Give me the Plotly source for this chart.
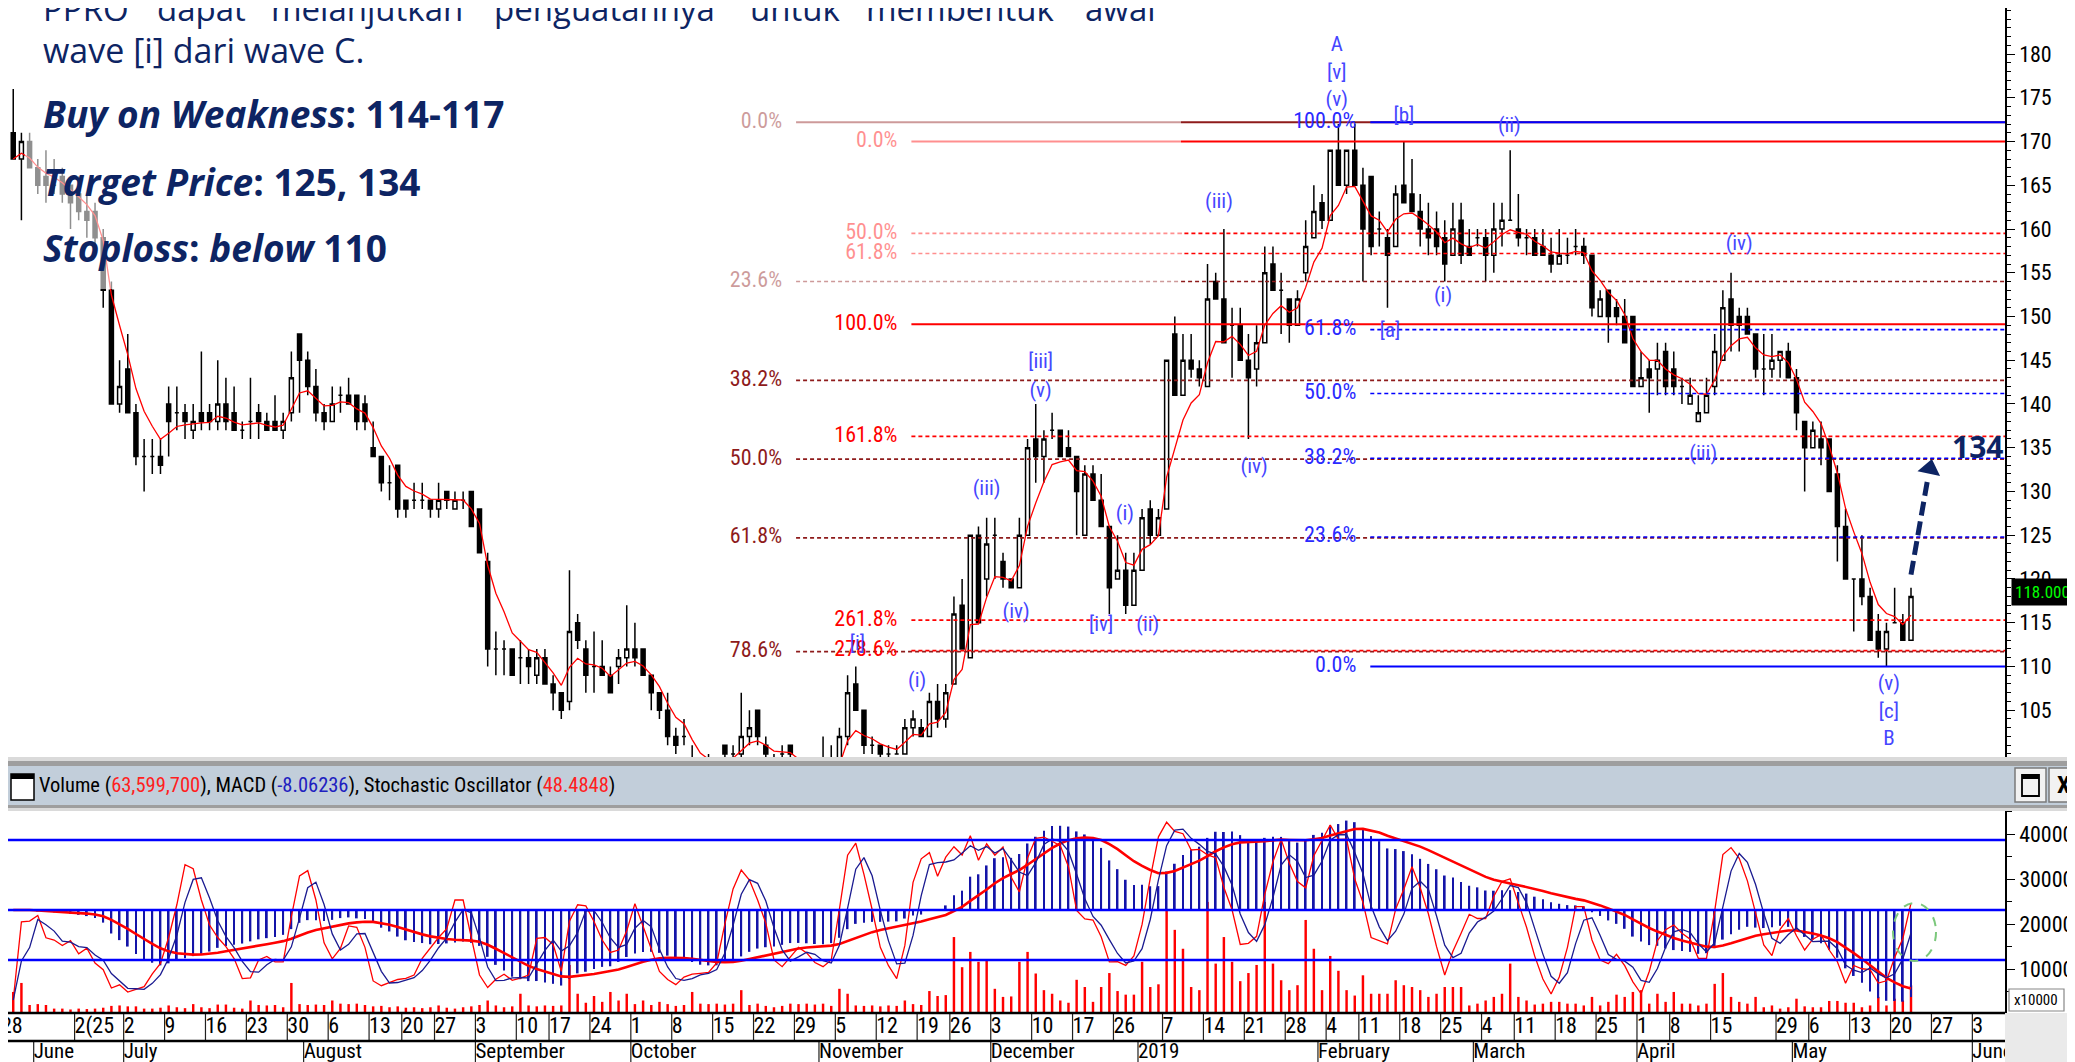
import pandas as pd
import plotly.graph_objects as go

W, H = 2075, 1062

# ---------------- data ----------------
holidays = ["2018-06-01", "2018-06-11", "2018-06-12", "2018-06-13", "2018-06-14", "2018-06-15",
            "2018-06-18", "2018-06-19", "2018-06-20", "2018-06-27", "2018-08-17", "2018-08-22",
            "2018-09-11", "2018-11-20", "2018-12-24", "2018-12-25", "2018-12-31", "2019-01-01",
            "2019-02-05", "2019-03-07", "2019-04-03", "2019-04-17", "2019-04-19", "2019-05-01"]
calendar_start, calendar_end = "2018-05-28", "2019-06-14"
first_date, last_date = "2018-05-29", "2019-05-22"

open_ = [171,168,170,167,166,165,166,165,164,162,
         162,159,153,140,144,139,134,134,134,140,
         139,139,137,139,139,138,140,139,137,138,
         139,138,138,137,139,148,145,142,139,138,
         141,141,141,140,135,134,131,133,129,129,
         129,129,128,130,128,129,130,128,122,112,
         112,112,111,111,109,111,108,107,106,115,
         112,110,110,109,110,111,112,112,109,107,
         105,102,102,99,98,98,98,101,100,100,
         102,105,101,99,100,101,99,98,97,97,
         96,97,102,108,105,101,101,100,100,100,
         103,103,102,106,104,108,117,111,125,120,
         125,122,120,119,125,136,134,137,137,135,
         134,125,132,129,126,120,121,117,121,128,
         125,128,148,141,145,144,142,154,152,149,
         149,145,144,147,156,153,152,149,155,159,
         163,161,169,165,169,165,166,160,159,158,
         165,164,162,160,160,159,157,161,158,159,
         159,157,160,161,160,159,159,158,157,156,
         157,158,158,157,150,153,151,150,150,142,
         144,144,146,144,142,140,138,139,142,145,
         152,150,150,148,144,144,145,146,143,138,
         135,136,136,132,126,120,120,118,114,112,
         115,115,113]
high = [176,171,171,168,169,168,167,165,166,164,
        163,160,154,145,148,140,136,136,136,142,
        142,140,140,146,140,145,143,142,138,143,
        140,139,141,139,146,148,146,144,140,142,
        142,143,141,141,138,134,133,133,129,131,
        131,129,131,130,130,130,130,128,123,114,
        113,112,113,112,112,112,109,107,121,116,
        113,114,113,110,112,117,115,112,109,107,
        107,103,104,101,99,100,99,101,101,107,
        105,105,102,100,101,101,99,98,97,102,
        101,103,109,110,105,102,101,101,101,104,
        105,104,107,108,108,118,120,125,126,127,
        127,123,120,127,136,140,137,139,137,137,
        134,133,133,132,126,125,123,123,128,129,
        128,145,150,148,148,145,156,155,160,151,
        151,148,149,158,158,155,152,153,161,165,
        164,169,172,169,172,167,166,162,160,165,
        170,168,164,163,162,161,163,163,160,160,
        160,163,163,169,164,160,160,160,159,160,
        159,160,159,157,153,153,152,152,150,146,
        145,147,147,146,143,143,141,143,148,153,
        155,151,151,148,148,148,146,147,144,138,
        138,138,136,133,128,120,125,119,116,115,
        119,116,119]
low = [168,161,167,164,163,164,163,160,161,159,
       158,151,140,139,139,133,130,132,132,134,
       137,136,136,137,137,137,137,137,136,136,
       136,137,137,136,138,139,141,138,137,138,
       139,140,137,137,134,130,129,127,127,128,
       128,127,127,128,128,128,126,123,110,109,
       109,109,108,108,108,108,105,104,105,112,
       107,107,109,107,108,110,110,109,105,104,
       101,100,101,97,96,97,97,99,99,99,
       101,101,99,98,99,99,97,96,95,95,
       96,97,101,105,100,100,99,99,100,100,
       102,102,102,103,103,108,112,111,115,118,
       120,119,119,119,125,131,131,136,134,134,
       125,125,129,126,116,120,116,117,121,124,
       125,128,141,141,143,142,142,152,147,143,
       145,136,142,147,153,148,147,149,154,159,
       160,161,165,164,165,154,157,158,151,158,
       163,162,158,157,157,154,157,156,157,158,
       154,155,158,161,158,157,157,157,155,156,
       156,157,156,150,150,147,149,147,142,142,
       139,141,141,141,140,140,138,139,141,145,
       146,146,148,143,141,143,143,143,137,130,
       135,133,130,122,120,114,117,113,111,110,
       115,113,113]
close = [168,170,167,165,165,165,164,163,162,161,
         159,153,140,142,139,134,134,134,133,138,
         139,138,138,138,138,140,138,137,137,138,
         138,137,137,138,143,145,142,139,138,140,
         141,140,138,138,134,131,131,128,128,129,
         129,128,129,129,129,129,126,123,112,112,
         112,109,111,110,111,108,107,105,114,113,
         109,110,109,107,111,112,111,109,107,105,
         102,101,102,98,97,98,98,100,100,102,
         103,102,100,99,100,100,98,97,96,96,
         97,102,107,105,101,101,100,100,100,103,
         104,102,106,104,107,116,112,125,115,124,
         125,120,119,125,135,134,136,137,134,134,
         130,132,129,126,119,121,117,121,127,125,
         127,145,141,145,144,143,152,152,147,149,
         145,143,147,155,153,153,149,152,158,162,
         161,169,165,169,165,160,158,160,157,164,
         163,162,160,159,158,156,160,157,157,159,
         157,160,161,161,159,159,157,157,156,157,
         157,158,157,151,152,150,150,147,142,143,
         143,145,142,142,142,141,139,141,146,151,
         149,149,148,144,144,145,146,143,139,135,
         137,135,130,126,120,120,118,113,112,114,
         115,113,118]
volume_m = [49,69,20,22,20,12,12,10,12,11,
            12,14,18,19,17,17,12,12,14,19,
            15,13,22,15,13,21,21,14,12,30,
            20,19,20,15,69,22,20,21,20,30,
            23,22,23,20,17,18,15,17,14,15,
            13,15,19,14,12,15,17,20,30,19,
            15,17,45,19,17,19,18,19,109,45,
            25,40,27,49,30,45,22,30,20,27,
            22,18,20,49,23,22,23,21,23,53,
            20,23,18,15,18,23,22,23,21,23,
            18,56,45,19,18,19,17,19,18,30,
            22,20,51,40,42,171,104,138,116,120,
            56,38,39,116,138,90,53,45,30,25,
            76,60,27,60,91,51,43,43,116,60,
            66,233,187,145,60,53,249,112,171,116,
            73,91,109,249,112,75,53,64,209,145,
            53,129,96,53,41,86,45,45,45,75,
            64,60,53,38,45,60,60,60,19,23,
            30,38,45,112,38,30,21,23,27,27,
            23,23,19,38,19,27,43,38,49,53,
            23,45,27,49,23,23,19,23,67,91,
            38,27,23,38,15,19,12,15,34,17,
            15,15,29,29,25,25,15,19,38,19,
            34,30,63.5997]

week_dates = ["2018-05-28", "2018-06-21", "2018-07-02", "2018-07-09", "2018-07-16", "2018-07-23",
              "2018-07-30", "2018-08-06", "2018-08-13", "2018-08-20", "2018-08-27", "2018-09-03",
              "2018-09-10", "2018-09-17", "2018-09-24", "2018-10-01", "2018-10-08", "2018-10-15",
              "2018-10-22", "2018-10-29", "2018-11-05", "2018-11-12", "2018-11-19", "2018-11-26",
              "2018-12-03", "2018-12-10", "2018-12-17", "2018-12-26", "2019-01-07", "2019-01-14",
              "2019-01-21", "2019-01-28", "2019-02-04", "2019-02-11", "2019-02-18", "2019-02-25",
              "2019-03-04", "2019-03-11", "2019-03-18", "2019-03-25", "2019-04-01", "2019-04-08",
              "2019-04-15", "2019-04-29", "2019-05-06", "2019-05-13", "2019-05-20", "2019-05-27",
              "2019-06-03"]
week_text = ["28", "2(25", "2", "9", "16", "23", "30", "6", "13", "20", "27", "3", "10", "17", "24",
             "1", "8", "15", "22", "29", "5", "12", "19", "26", "3", "10", "17", "26", "7", "14",
             "21", "28", "4", "11", "18", "25", "4", "11", "18", "25", "1", "8", "15", "29", "6",
             "13", "20", "27", "3"]
month_dates = ["2018-06-04", "2018-07-02", "2018-08-01", "2018-09-03", "2018-10-01", "2018-11-01",
               "2018-12-03", "2019-01-02", "2019-02-01", "2019-03-01", "2019-04-01", "2019-05-02",
               "2019-06-03"]
month_text = ["June", "July", "August", "September", "October", "November", "December", "2019",
              "February", "March", "April", "May", "June"]
price_ticks = [105, 110, 115, 120, 125, 130, 135, 140, 145, 150, 155, 160, 165, 170, 175, 180]

# Fibonacci tools (levels)
brown_levels = [172.2, 154.0, 142.7, 133.7, 124.7, 111.7]
brown_labels = ["0.0%", "23.6%", "38.2%", "50.0%", "61.8%", "78.6%"]
red_levels = [170.0, 159.5, 157.2, 149.1, 136.3, 115.3, 111.8]
red_labels = ["0.0%", "50.0%", "61.8%", "100.0%", "161.8%", "261.8%", "278.6%"]
blue_levels = [172.2, 148.5, 141.2, 133.8, 124.8, 110.0]
blue_labels = ["100.0%", "61.8%", "50.0%", "38.2%", "23.6%", "0.0%"]

target_price = 134
header_volume, header_macd, header_stoch = "63,599,700", "-8.06236", "48.4848"

# ---------------- calendar / indicators ----------------
hol = set(pd.to_datetime(holidays))
last = pd.Timestamp(last_date)
cal = [d for d in pd.bdate_range(calendar_start, calendar_end) if not (d in hol and d <= last)]
xpos = {d: i for i, d in enumerate(cal)}
xs = [xpos[d] for d in cal if pd.Timestamp(first_date) <= d <= last]
n = min(len(xs), len(close), len(open_), len(high), len(low), len(volume_m))
xs = xs[:n]
o = pd.Series(open_[:n], dtype=float)
c = pd.Series(close[:n], dtype=float)
h = pd.concat([pd.Series(high[:n], dtype=float), o, c], axis=1).max(axis=1)
l = pd.concat([pd.Series(low[:n], dtype=float), o, c], axis=1).min(axis=1)
x_last = xs[-1]

ma = c.ewm(span=5, adjust=False).mean()
macd = c.ewm(span=12).mean() - c.ewm(span=26).mean()
signal = macd.ewm(span=9).mean()
ll5 = l.rolling(5, min_periods=1).min()
hh5 = h.rolling(5, min_periods=1).max()
stoch_k = 100 * (c - ll5).rolling(3, min_periods=1).sum() / (hh5 - ll5).rolling(3, min_periods=1).sum()
stoch_d = stoch_k.rolling(3, min_periods=1).mean()

# ---------------- layout geometry ----------------
PX_DAY = 8.18
PLOT_R = 1997
LAST_PX = 1903
x_min = x_last - LAST_PX / PX_DAY
x_max = x_last + (PLOT_R - LAST_PX) / PX_DAY
XD = PLOT_R / W


def py(p):
    return 1 - p / H


def pxx(p):
    return p / W


NARROW = "Liberation Sans Narrow, Roboto Condensed, Open Sans Condensed, DejaVu Sans Condensed, sans-serif"
SANS = "Open Sans, Noto Sans, sans-serif"
NAVY = "#0D2463"
BROWN = "#8E1B1B"
RED = "#FF0000"
BLUE = "#0000FF"
WAVE = "#4646FF"

fig = go.Figure()

# ---- price panel ----
fig.add_trace(go.Candlestick(
    x=xs, open=o, high=h, low=l, close=c,
    increasing=dict(line=dict(color="black", width=1.5), fillcolor="white"),
    decreasing=dict(line=dict(color="black", width=1.5), fillcolor="black"),
    whiskerwidth=0, hoverinfo="skip", xaxis="x", yaxis="y"))
fig.add_trace(go.Scatter(x=xs, y=ma, mode="lines", line=dict(color=RED, width=1.3),
                         hoverinfo="skip", xaxis="x", yaxis="y"))

DASH = "4px,3px"
fib_groups = [
    (brown_levels, brown_labels, 96.7, BROWN, BROWN, {"0.0%"}),
    (red_levels, red_labels, 110.8, RED, RED, {"0.0%", "100.0%"}),
    (blue_levels, blue_labels, 166.9, BLUE, "#2A2AFF", {"100.0%", "0.0%"}),
]
for levels, labels, start, lcol, tcol, solid in fib_groups:
    for lv, lb in zip(levels, labels):
        is_solid = lb in solid
        fig.add_trace(go.Scatter(
            x=[start, x_max], y=[lv, lv], mode="lines",
            line=dict(color=lcol, width=2 if is_solid else 1.7, dash="solid" if is_solid else DASH),
            hoverinfo="skip", xaxis="x", yaxis="y"))
    fig.add_trace(go.Scatter(
        x=[start - 1.7] * len(levels), y=levels, text=labels, mode="text",
        textposition="middle left", textfont=dict(family=NARROW, size=22, color=tcol),
        hoverinfo="skip", xaxis="x", yaxis="y"))

# Elliott wave labels
waves = [("A", 162.8, 181.0), ("[v]", 162.8, 177.8), ("(v)", 162.8, 174.7),
         ("[b]", 171.0, 172.8), ("(ii)", 183.9, 171.7), ("(iii)", 148.4, 163.0),
         ("(i)", 175.8, 152.3), ("[a]", 169.3, 148.3), ("(iv)", 152.7, 132.7),
         ("[iii]", 126.6, 144.7), ("(v)", 126.6, 141.4), ("(iii)", 120.0, 130.2),
         ("(iv)", 123.6, 116.1), ("[iv]", 134.0, 114.7), ("(ii)", 139.7, 114.7),
         ("(i)", 136.9, 127.3), ("(i)", 111.5, 108.3), ("[i]", 104.2, 112.5),
         ("(iii)", 207.6, 134.2), ("(v)", 230.3, 107.9), ("[c]", 230.3, 104.7),
         ("B", 230.3, 101.6), ("(iv)", 212.0, 158.2)]
fig.add_trace(go.Scatter(
    x=[w[1] for w in waves], y=[w[2] for w in waves], text=[w[0] for w in waves],
    mode="text", textposition="middle center", textfont=dict(family=NARROW, size=21, color=WAVE),
    hoverinfo="skip", xaxis="x", yaxis="y"))

# target arrow (dashed) with head
arrow_start = (x_last, float(h.iloc[-1]) + 1.5)
arrow_end = (x_last + 2.0, target_price - 2.8)
fig.add_trace(go.Scatter(x=[arrow_start[0], arrow_end[0]], y=[arrow_start[1], arrow_end[1]],
                         mode="lines", line=dict(color=NAVY, width=5, dash="14px,6px"),
                         hoverinfo="skip", xaxis="x", yaxis="y"))
fig.add_trace(go.Scatter(x=[x_last + 2.3], y=[target_price - 1.4], mode="markers",
                         marker=dict(symbol="triangle-up", size=20, angle=12, color=NAVY),
                         hoverinfo="skip", xaxis="x", yaxis="y"))

# ---- indicator panel ----
fig.add_trace(go.Bar(x=xs, y=[v * 100 for v in volume_m[:n]], width=0.3,
                     marker=dict(color=RED, line=dict(width=0)), hoverinfo="skip",
                     xaxis="x2", yaxis="y2"))
fig.add_trace(go.Bar(x=xs, y=macd, width=0.22, marker=dict(color="#1414A8", line=dict(width=0)),
                     hoverinfo="skip", xaxis="x2", yaxis="y3"))
fig.add_trace(go.Scatter(x=xs, y=signal, mode="lines", line=dict(color=RED, width=2.6),
                         hoverinfo="skip", xaxis="x2", yaxis="y3"))
fig.add_trace(go.Scatter(x=xs, y=stoch_k, mode="lines", line=dict(color=RED, width=1.3),
                         hoverinfo="skip", xaxis="x2", yaxis="y4"))
fig.add_trace(go.Scatter(x=xs, y=stoch_d, mode="lines", line=dict(color="#1A1A90", width=1.3),
                         hoverinfo="skip", xaxis="x2", yaxis="y4"))

# ---- date band ----
wk_x = [xpos[pd.Timestamp(d)] - 0.5 for d in week_dates]
mo_x = [xpos[pd.Timestamp(d)] - 0.5 for d in month_dates]
sep_x, sep_y = [], []
for xv in wk_x:
    sep_x += [xv, xv, None]
    sep_y += [1, 2, None]
for xv in mo_x:
    sep_x += [xv, xv, None]
    sep_y += [0, 1, None]
fig.add_trace(go.Scatter(x=sep_x, y=sep_y, mode="lines", line=dict(color="#202020", width=1.2),
                         hoverinfo="skip", xaxis="x3", yaxis="y5"))
fig.add_trace(go.Scatter(x=wk_x, y=[1.5] * len(wk_x), text=week_text, mode="text",
                         textposition="middle right", textfont=dict(family=NARROW, size=22, color="black"),
                         hoverinfo="skip", xaxis="x3", yaxis="y5"))
fig.add_trace(go.Scatter(x=mo_x, y=[0.6] * len(mo_x), text=month_text, mode="text",
                         textposition="middle right", textfont=dict(family=NARROW, size=21, color="black"),
                         hoverinfo="skip", xaxis="x3", yaxis="y5"))

# ---------------- shapes ----------------
shapes = []
shapes.append(dict(type="rect", xref="paper", yref="paper", x0=pxx(17), x1=pxx(1173), y0=py(281), y1=1.02,
                   fillcolor="rgba(255,255,255,0.56)", line=dict(width=0), layer="above"))
shapes.append(dict(type="rect", xref="paper", yref="paper", x0=0, x1=1, y0=py(753), y1=py(749),
                   fillcolor="#DADADA", line=dict(width=0), layer="above"))
shapes.append(dict(type="rect", xref="paper", yref="paper", x0=0, x1=1, y0=py(758), y1=py(753),
                   fillcolor="#9E9E9E", line=dict(width=0), layer="above"))
shapes.append(dict(type="rect", xref="paper", yref="paper", x0=0, x1=1, y0=py(797), y1=py(758),
                   fillcolor="#C2CEDA", line=dict(width=0), layer="above"))
shapes.append(dict(type="rect", xref="paper", yref="paper", x0=0, x1=1, y0=py(800), y1=py(797),
                   fillcolor="#9E9E9E", line=dict(width=0), layer="above"))
shapes.append(dict(type="rect", xref="paper", yref="paper", x0=0, x1=1, y0=py(803), y1=py(800),
                   fillcolor="#DADADA", line=dict(width=0), layer="above"))
shapes.append(dict(type="rect", xref="paper", yref="paper", x0=pxx(3), x1=pxx(26), y0=py(792), y1=py(766),
                   fillcolor="white", line=dict(color="black", width=1.5), layer="above"))
shapes.append(dict(type="rect", xref="paper", yref="paper", x0=pxx(3), x1=pxx(26), y0=py(771), y1=py(766),
                   fillcolor="black", line=dict(width=0), layer="above"))
for bx0, bx1 in [(2007, 2038), (2041, 2072)]:
    shapes.append(dict(type="rect", xref="paper", yref="paper", x0=pxx(bx0), x1=pxx(bx1), y0=py(794), y1=py(760),
                       fillcolor="#F2F2F2", line=dict(color="#7A7A7A", width=1.5), layer="above"))
shapes.append(dict(type="rect", xref="paper", yref="paper", x0=pxx(2014), x1=pxx(2031), y0=py(788), y1=py(767),
                   fillcolor="rgba(0,0,0,0)", line=dict(color="black", width=1.8), layer="above"))
shapes.append(dict(type="rect", xref="paper", yref="paper", x0=pxx(2014), x1=pxx(2031), y0=py(771), y1=py(767),
                   fillcolor="black", line=dict(width=0), layer="above"))
for yref, yv in [("y4", 80), ("y3", 0), ("y4", 20)]:
    shapes.append(dict(type="line", xref="paper", yref=yref, x0=0, x1=XD, y0=yv, y1=yv,
                       line=dict(color=BLUE, width=2.5), layer="above"))
shapes.append(dict(type="circle", xref="x2", yref="y4", x0=x_last - 2.2, x1=x_last + 3.06, y0=19.5, y1=48.5,
                   line=dict(color="#7CC87C", width=2, dash="dash"), layer="above"))
shapes.append(dict(type="line", xref="paper", yref="paper", x0=0, x1=XD, y0=py(1005), y1=py(1005),
                   line=dict(color="black", width=2.5), layer="above"))
shapes.append(dict(type="line", xref="paper", yref="paper", x0=0, x1=XD, y0=py(1033), y1=py(1033),
                   line=dict(color="black", width=2.5), layer="above"))
shapes.append(dict(type="rect", xref="paper", yref="paper", x0=XD, x1=1, y0=0, y1=py(1005),
                   fillcolor="#EAEAEA", line=dict(width=0), layer="above"))
shapes.append(dict(type="rect", xref="paper", yref="paper", x0=pxx(2001), x1=pxx(2056), y0=py(1003), y1=py(981),
                   fillcolor="white", line=dict(color="#888888", width=1.2), layer="above"))

# ---------------- annotations ----------------
ann = []
words = ["PPRO", "dapat", "melanjutkan", "penguatannya", "untuk", "membentuk", "awal"]
word_x = [33, 147, 261, 484, 740, 856, 1075]
for wd, wx in zip(words, word_x):
    ann.append(dict(text=wd, x=pxx(wx), y=py(0), xref="paper", yref="paper", xanchor="left",
                    yanchor="middle", showarrow=False, font=dict(family=SANS, size=33, color=NAVY)))
ann.append(dict(text="wave [i] dari wave C.", x=pxx(33), y=py(42), xref="paper", yref="paper",
                xanchor="left", yanchor="middle", showarrow=False, font=dict(family=SANS, size=34, color=NAVY)))
for txt, yc in [("<b><i>Buy on Weakness</i>: 114-117</b>", 105),
                ("<b><i>Target Price</i>: 125, 134</b>", 174),
                ("<b><i>Stoploss</i>: <i>below</i> 110</b>", 239)]:
    ann.append(dict(text=txt, x=pxx(33), y=py(yc), xref="paper", yref="paper", xanchor="left",
                    yanchor="middle", showarrow=False, font=dict(family=SANS, size=37, color=NAVY)))
ann.append(dict(text="<b>%d</b>" % target_price, x=XD, y=target_price + 1.1, xref="paper", yref="y",
                xanchor="right", yanchor="middle", showarrow=False,
                font=dict(family=SANS, size=30, color=NAVY)))
ann.append(dict(text="%.4f" % close[n - 1], x=pxx(2003), y=close[n - 1] + 0.5, xref="paper", yref="y",
                xanchor="left", yanchor="middle", showarrow=False, bgcolor="black", borderpad=3,
                font=dict(family=NARROW, size=17, color="#00FF00")))
ann.append(dict(text=('Volume (<span style="color:#FF2020">%s</span>), MACD (<span style="color:#2020C0">%s</span>), '
                      'Stochastic Oscillator (<span style="color:#FF2020">%s</span>)') % (header_volume, header_macd, header_stoch),
                x=pxx(29), y=py(777), xref="paper", yref="paper", xanchor="left", yanchor="middle",
                showarrow=False, font=dict(family=NARROW, size=20.5, color="black")))
ann.append(dict(text="<b>X</b>", x=pxx(2056), y=py(777), xref="paper", yref="paper", xanchor="center",
                yanchor="middle", showarrow=False, font=dict(family=NARROW, size=24, color="black")))
ann.append(dict(text="x10000", x=pxx(2028), y=py(992), xref="paper", yref="paper", xanchor="center",
                yanchor="middle", showarrow=False, font=dict(family=NARROW, size=15, color="black")))

axis_common = dict(showgrid=False, zeroline=False, showline=True, linecolor="black", linewidth=1.5,
                   ticks="outside", ticklen=8, tickwidth=1.3, tickcolor="black",
                   tickfont=dict(family=NARROW, size=22, color="black"), ticklabelstandoff=0,
                   fixedrange=True)

fig.update_layout(
    width=W, height=H, margin=dict(l=0, r=0, t=0, b=0), autosize=False,
    paper_bgcolor="white", plot_bgcolor="white", showlegend=False, barmode="overlay",
    xaxis=dict(domain=[0, XD], range=[x_min, x_max], visible=False, anchor="y",
               rangeslider=dict(visible=False), fixedrange=True),
    xaxis2=dict(domain=[0, XD], range=[x_min, x_max], visible=False, anchor="y2", matches="x"),
    xaxis3=dict(domain=[0, XD], range=[x_min, x_max], visible=False, anchor="y5", matches="x"),
    yaxis=dict(domain=[py(752), 1], range=[99.31, 185.26], side="right", anchor="x",
               tickvals=price_ticks,
               minor=dict(dtick=1, ticklen=4, ticks="outside", tickcolor="black", tickwidth=1),
               **axis_common),
    yaxis2=dict(domain=[py(1005), py(803)], range=[222, 45111], side="right", anchor="x2", dtick=10000,
                tick0=0, tickformat="d",
                minor=dict(dtick=5000, ticklen=5, ticks="outside", tickcolor="black", tickwidth=1),
                **axis_common),
    yaxis3=dict(overlaying="y2", anchor="x2", range=[-10.0, 9.61], visible=False, fixedrange=True),
    yaxis4=dict(overlaying="y2", anchor="x2", range=[-6.5, 94.5], visible=False, fixedrange=True),
    yaxis5=dict(domain=[0, py(1005)], range=[0, 2], visible=False, anchor="x3", fixedrange=True),
    shapes=shapes, annotations=ann,
)

fig.write_html("out.html")
